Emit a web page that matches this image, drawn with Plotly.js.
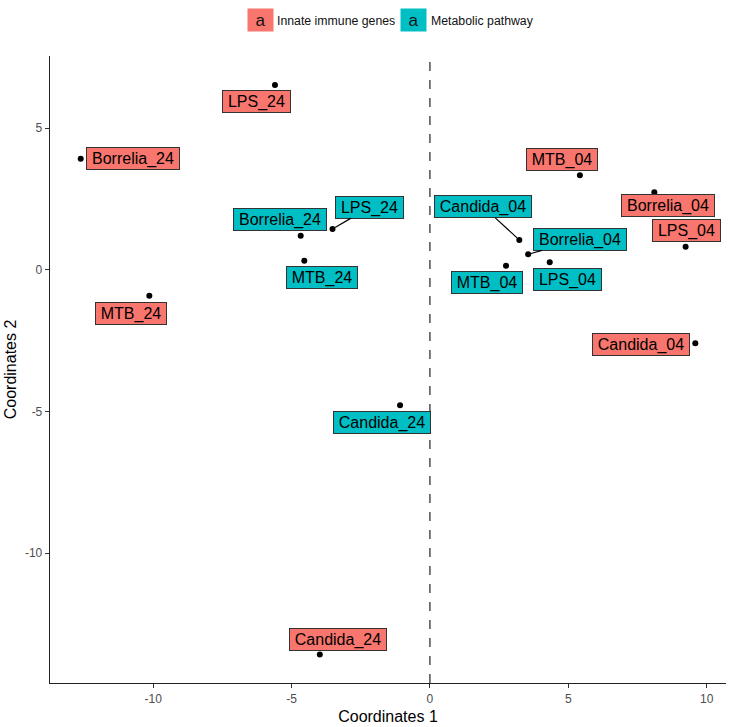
<!DOCTYPE html>
<html>
<head>
<meta charset="utf-8">
<script src="https://cdn.plot.ly/plotly-3.0.1.min.js"></script>
<style>html,body{margin:0;padding:0;background:#fff;}#chart{width:729px;height:727px;}</style>
</head>
<body>
<div id="chart"></div>
<script>
// ---- data ----
const innateLabels = ['LPS_24','Borrelia_24','MTB_24','Candida_24','MTB_04','Borrelia_04','LPS_04','Candida_04'];
const innateX = [-5.60,-12.62,-10.14,-3.98,5.42,8.11,9.24,9.59];
const innateY = [6.53,3.92,-0.91,-13.57,3.34,2.74,0.82,-2.59];

const metabLabels = ['Borrelia_24','LPS_24','MTB_24','Candida_24','Candida_04','Borrelia_04','MTB_04','LPS_04'];
const metabX = [-4.67,-3.52,-4.54,-1.08,3.23,3.55,2.75,4.33];
const metabY = [1.21,1.44,0.32,-4.78,1.06,0.55,0.15,0.27];

const groupNames = ['Innate immune genes','Metabolic pathway'];
const xTicks = [-10,-5,0,5,10];
const yTicks = [-10,-5,0,5];
const refLineX = 0;

// ---- label placement (pixel offsets of label box centre from point; segment flag) ----
const innateOffsets = [[-18,17,0],[52,0,0],[-18,18,0],[18,-15,0],[-18,-16,0],[14,13,0],[1,-16,0],[-54,1,0]];
const metabOffsets = [[-21,-16,0],[37,-22,1],[18,17,0],[-18,17,0],[-36,-33,1],[52,-15,1],[-19,17,0],[18,17,0]];

const colors = ['#F8766D','#00BFC4'];
const FONT = '"Liberation Sans", Arial, sans-serif';

const cv = document.createElement('canvas').getContext('2d');
cv.font = '16px "Liberation Sans"';
function tw(t){ return cv.measureText(t).width; }

const annotations = [];
function addLabels(labels, xs, ys, offs, col){
  labels.forEach((lab,i)=>{
    const o = offs[i];
    annotations.push({
      x: xs[i], y: ys[i], xref:'x', yref:'y', text: lab,
      showarrow: true, arrowhead: 0, arrowwidth: 1.2, standoff: 3,
      arrowcolor: o[2] ? '#000' : 'rgba(0,0,0,0)',
      ax: o[0], ay: o[1],
      font: {family: FONT, size: 16, color: '#000'},
      bgcolor: col, bordercolor: '#333', borderwidth: 1, borderpad: 1,
      width: Math.round(tw(lab) + 8), height: 19
    });
  });
}
addLabels(innateLabels, innateX, innateY, innateOffsets, colors[0]);
addLabels(metabLabels, metabX, metabY, metabOffsets, colors[1]);

// legend (ggplot-style keys with "a")
const keyX = [(260.8-50)/676, (413.8-50)/676];
const keyTextX = [(274.5-50)/676, (428.5-50)/676];
groupNames.forEach((g,i)=>{
  annotations.push({xref:'paper', yref:'paper', x: keyX[i], xanchor:'center', y: 1, yanchor:'bottom', yshift: 24,
    text:'a', showarrow:false, bgcolor: colors[i], width: 25, height: 22, borderpad:0,
    font:{family: FONT, size: 17, color:'#111'}});
  annotations.push({xref:'paper', yref:'paper', x: keyTextX[i], xanchor:'left', y: 1, yanchor:'bottom', yshift: 26,
    text: g, showarrow:false, font:{family: FONT, size: 12.3, color:'#111'}});
});

const traces = [
  {type:'scatter', mode:'markers', name: groupNames[0], x: innateX, y: innateY, text: innateLabels,
   marker:{color:'#000', size:6}, showlegend:false, hoverinfo:'text'},
  {type:'scatter', mode:'markers', name: groupNames[1], x: metabX, y: metabY, text: metabLabels,
   marker:{color:'#000', size:6}, showlegend:false, hoverinfo:'text'}
];

const layout = {
  width: 729, height: 727,
  margin: {l:50, r:3, t:56, b:44},
  paper_bgcolor:'#fff', plot_bgcolor:'#fff',
  font:{family: FONT},
  showlegend:false,
  xaxis:{range:[-13.73,10.7], tickvals: xTicks, ticktext: xTicks.map(String), showgrid:false, zeroline:false,
    showline:true, linecolor:'#222', linewidth:1.3, ticks:'outside', ticklen:4, tickcolor:'#333', tickwidth:1.1,
    tickfont:{size:12, color:'#4d4d4d', family: FONT},
    title:{text:'Coordinates 1', font:{size:16, color:'#000', family: FONT}, standoff: 6}},
  yaxis:{range:[-14.58,7.55], tickvals: yTicks, ticktext: yTicks.map(String), showgrid:false, zeroline:false,
    showline:true, linecolor:'#222', linewidth:1.3, ticks:'outside', ticklen:4, tickcolor:'#333', tickwidth:1.1,
    tickfont:{size:12, color:'#4d4d4d', family: FONT},
    title:{text:'Coordinates 2', font:{size:16, color:'#000', family: FONT}, standoff: 4}},
  shapes:[{type:'line', xref:'x', yref:'paper', x0: refLineX, x1: refLineX, y0:0, y1:1,
    line:{color:'#333', width:1.3, dash:'dash'}}],
  annotations: annotations
};

Plotly.newPlot('chart', traces, layout, {displayModeBar:false, staticPlot:true});
</script>
</body>
</html>
